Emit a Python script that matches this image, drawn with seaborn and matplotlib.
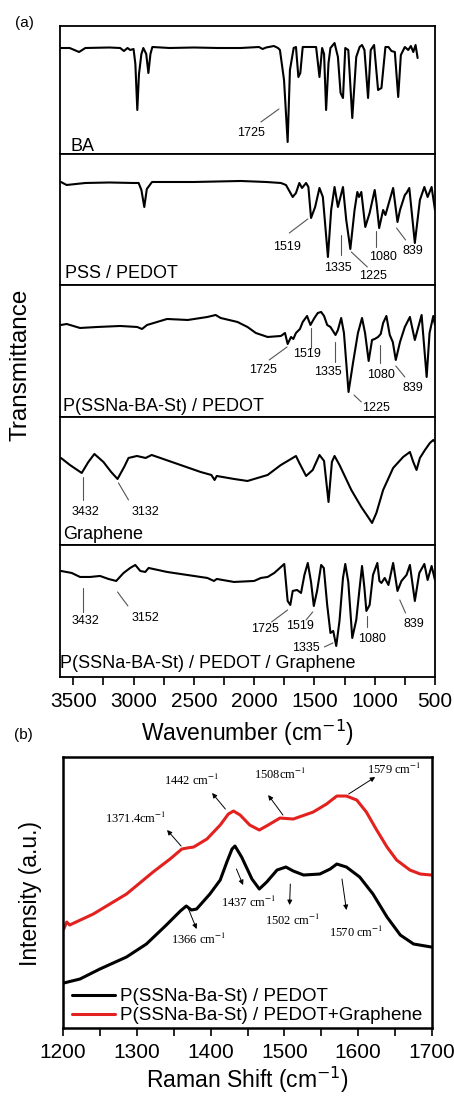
import matplotlib
matplotlib.use("Agg")
import matplotlib.pyplot as plt
import seaborn as sns
import pandas as pd
from matplotlib.ticker import MultipleLocator

sns.set_theme(style="ticks")
plt.rcParams["font.family"] = ["Liberation Sans", "DejaVu Sans"]
plt.rcParams["text.color"] = "black"
plt.rcParams["axes.labelcolor"] = "black"
plt.rcParams["xtick.color"] = "black"

# ---------------- (a) FTIR spectra ----------------
# wavenumber (cm-1) and transmittance (a.u., per panel)
ba_wn = [3602, 3530, 3452, 3400, 3200, 3111, 3080, 3050, 3028, 3000, 2985, 2969, 2955, 2935,
         2919, 2895, 2877, 2860, 2844, 2700, 2500, 2300, 2111, 1960, 1930, 1900, 1836, 1802,
         1786, 1752, 1722, 1703, 1672, 1653, 1633, 1617, 1597, 1486, 1458, 1436, 1420, 1403,
         1383, 1367, 1333, 1305, 1283, 1263, 1244, 1219, 1186, 1153, 1125, 1105, 1085, 1055,
         1033, 1005, 972, 944, 911, 886, 861, 833, 805, 783, 750, 722, 700, 680, 661, 644]
ba_t = [106, 106, 102, 106, 106.5, 106, 103, 106, 104, 105, 90, 44, 80, 100,
        106, 100, 81, 100, 107, 106, 106.5, 106, 106, 107, 105, 106.5, 108, 106,
        104, 74, 12, 84, 106, 107, 77, 81, 107, 107, 77, 106, 100, 44,
        91, 106, 111, 97, 61, 56, 106, 104, 36, 97, 107, 109, 104, 56,
        104, 109, 64, 66, 107, 107, 103, 102, 57, 99, 107, 104, 108, 102, 109, 96]

pss_wn = [3602, 3555, 3400, 3200, 3000, 2958, 2935, 2911, 2890, 2847, 2500, 2111, 1900, 1778,
          1736, 1680, 1653, 1625, 1603, 1569, 1550, 1528, 1494, 1458, 1430, 1388, 1361, 1333,
          1305, 1263, 1236, 1202, 1167, 1144, 1130, 1111, 1078, 1042, 1000, 985, 963, 930,
          911, 847, 811, 790, 750, 736, 713, 667, 625, 588, 561, 528, 500]
pss_t = [103, 100, 102, 102.5, 102, 102, 95, 78, 96, 103, 103, 104, 103, 102,
         100, 88, 92, 102, 97, 102, 98, 67, 78, 97, 88, 28, 75, 98,
         78, 98, 65, 36, 75, 93, 88, 93, 58, 72, 95, 82, 57, 75,
         70, 97, 63, 75, 90, 92, 97, 42, 85, 98, 88, 98, 75]

cop_wn = [3602, 3555, 3444, 3300, 3111, 2970, 2930, 2888, 2722, 2550, 2388, 2319, 2278, 2138,
          2055, 1986, 1888, 1778, 1744, 1722, 1694, 1675, 1653, 1620, 1597, 1561, 1533, 1500,
          1472, 1444, 1420, 1394, 1367, 1325, 1305, 1278, 1255, 1217, 1180, 1139, 1105, 1080,
          1050, 1022, 1000, 972, 950, 930, 903, 875, 850, 825, 790, 750, 708, 667, 611, 569,
          545, 514, 500]
cop_t = [92, 93, 89, 90, 91, 90, 88, 92, 98, 97, 100, 102, 99, 95,
         90, 84, 80, 81, 84, 73, 80, 78, 84, 88, 95, 101, 92, 99,
         104, 105, 101, 92, 90, 82, 87, 99, 84, 25, 54, 84, 99, 84,
         56, 77, 78, 80, 83, 94, 101, 82, 75, 57, 75, 90, 100, 77, 102, 40,
         84, 101, 92]

gr_wn = [3602, 3528, 3430, 3375, 3325, 3250, 3186, 3133, 3078, 3042, 2972, 2900, 2850, 2778,
         2611, 2444, 2355, 2328, 2310, 2167, 2055, 1888, 1778, 1694, 1653, 1625, 1569, 1514,
         1458, 1420, 1383, 1355, 1333, 1292, 1194, 1111, 1055, 1022, 986, 930, 847, 764,
         708, 680, 653, 625, 583, 542, 514, 500]
gr_t = [87, 80, 72, 83, 91, 83, 73, 66, 78, 87, 89, 87, 90, 87,
        80, 73, 70, 65, 69, 66, 64, 70, 80, 86, 89, 82, 69, 75,
        90, 84, 43, 83, 89, 80, 55, 38, 28, 22, 32, 55, 77, 88,
        93, 83, 75, 87, 95, 102, 105, 103]

cg_wn = [3602, 3513, 3444, 3361, 3278, 3208, 3144, 3083, 3028, 2986, 2944, 2903, 2875, 2722,
         2555, 2388, 2333, 2310, 2167, 2000, 1944, 1888, 1833, 1805, 1750, 1722, 1700, 1680,
         1644, 1611, 1583, 1555, 1528, 1505, 1478, 1444, 1422, 1394, 1367, 1344, 1319, 1292,
         1263, 1244, 1219, 1186, 1153, 1125, 1105, 1086, 1069, 1042, 1014, 978, 961, 944,
         917, 886, 847, 811, 778, 736, 708, 667, 630, 588, 561, 528, 500]
cg_t = [106, 104, 100, 100, 101, 98, 96, 104, 109, 112, 106, 105, 109, 105,
        102, 99, 96, 98, 95, 96, 99, 100, 104, 107, 113, 76, 72, 86,
        87, 84, 102, 114, 95, 71, 86, 112, 109, 72, 44, 46, 31, 56,
        99, 113, 95, 39, 57, 89, 111, 90, 66, 72, 102, 114, 96, 94,
        99, 92, 114, 86, 96, 102, 112, 76, 104, 113, 97, 111, 97]

ftir_wn = [ba_wn, pss_wn, cop_wn, gr_wn, cg_wn]
ftir_t = [ba_t, pss_t, cop_t, gr_t, cg_t]
ftir_names = ["BA", "PSS / PEDOT", "P(SSNa-BA-St) / PEDOT", "Graphene",
              "P(SSNa-BA-St) / PEDOT / Graphene"]
ftir_ticks = [3500, 3000, 2500, 2000, 1500, 1000, 500]

# peak labels: (text, text x, text y, line x0, line y0, line x1, line y1)
ftir_peaks = [
    [("1725", 2027, 21, 1944, 32, 1794, 45)],
    [("1519", 1729, 38, 1708, 52, 1555, 66), ("1335", 1302, 17, 1278, 50, 1278, 30),
     ("1225", 1011, 9, 1194, 33, 1061, 18), ("1080", 930, 28, 986, 54, 986, 38),
     ("839", 680, 34, 819, 57, 744, 45)],
    [("1725", 1930, 47, 1875, 57, 1727, 70), ("1519", 1558, 63, 1528, 89, 1528, 69),
     ("1335", 1389, 45, 1328, 75, 1328, 55), ("1225", 986, 9, 1172, 22, 1111, 15),
     ("1080", 947, 42, 958, 72, 958, 54), ("839", 680, 29, 825, 51, 750, 40)],
    [("3432", 3397, 33, 3417, 68, 3417, 45), ("3132", 2900, 33, 3125, 62, 3042, 45)],
    [("3432", 3400, 56, 3417, 89, 3417, 65), ("3152", 2903, 59, 3133, 85, 3047, 71),
     ("1725", 1913, 48, 1855, 55, 1722, 67), ("1519", 1617, 51, 1569, 57, 1514, 65),
     ("1335", 1567, 29, 1417, 30, 1347, 34), ("1080", 1022, 38, 1063, 61, 1063, 50),
     ("839", 678, 53, 792, 77, 744, 64)],
]

# ---------------- (b) Raman spectra ----------------
raman_names = ["P(SSNa-Ba-St) / PEDOT", "P(SSNa-Ba-St) / PEDOT+Graphene"]
raman_colors = ["black", "#e3211f"]
pedot_shift = [1201, 1223, 1250, 1286, 1313, 1340, 1359, 1367, 1374, 1381, 1399, 1413, 1422,
               1429, 1433, 1442, 1456, 1466, 1476, 1490, 1502, 1512, 1526, 1548, 1562, 1571,
               1584, 1602, 1620, 1639, 1657, 1675, 1699]
pedot_int = [45, 49, 59, 71, 84, 103, 117, 122, 118, 119, 134, 148, 166,
             179, 182, 171, 149, 139, 146, 158, 161, 157, 153, 154, 159, 164,
             161, 151, 134, 111, 93, 84, 81]
gr_shift = [1201, 1205, 1209, 1241, 1286, 1322, 1345, 1361, 1368, 1377, 1395, 1413, 1424,
            1431, 1440, 1453, 1466, 1478, 1494, 1512, 1539, 1557, 1571, 1584, 1598, 1611,
            1625, 1639, 1652, 1670, 1684, 1699]
gr_int = [99, 106, 103, 114, 134, 156, 169, 179, 180, 181, 189, 203, 214,
          217, 213, 203, 198, 203, 210, 209, 216, 224, 232, 232, 228, 216,
          198, 181, 168, 158, 154, 153]

raman_peaks = [
    ("1371.4cm$^{-1}$", 1299, 210, 1360, 182, 1341, 198),
    ("1442 cm$^{-1}$", 1374, 248, 1420, 219, 1402, 235),
    ("1508cm$^{-1}$", 1494, 254, 1498, 213, 1478, 233),
    ("1579 cm$^{-1}$", 1649, 259, 1587, 234, 1623, 251),
    ("1366 cm$^{-1}$", 1384, 89, 1370, 119, 1381, 99),
    ("1437 cm$^{-1}$", 1452, 126, 1435, 159, 1444, 143),
    ("1502 cm$^{-1}$", 1511, 108, 1508, 144, 1507, 123),
    ("1570 cm$^{-1}$", 1597, 96, 1578, 149, 1584, 118),
]

# ---------------- figure ----------------
fig = plt.figure(figsize=(4.54, 10.97), dpi=100)
heights = [128, 131, 132, 128, 132]
gs = fig.add_gridspec(5, 1, left=0.1322, right=0.9581, top=0.9763, bottom=0.3829,
                      hspace=0, height_ratios=heights)
label_pos = [(0.029, 0.026), (0.013, 0.051), (0.008, 0.048), (0.008, 0.045), (0.0, 0.07)]

for i in range(5):
    ax = fig.add_subplot(gs[i])
    sns.lineplot(x=ftir_wn[i], y=ftir_t[i], ax=ax, color="black", lw=1.5,
                 sort=False, estimator=None)
    ax.set_xlim(3610, 500)
    ax.set_ylim(0, heights[i])
    ax.set_ylabel("")
    for s in ax.spines.values():
        s.set_linewidth(1.3)
        s.set_color("black")
    ax.text(label_pos[i][0], label_pos[i][1], ftir_names[i], transform=ax.transAxes,
            fontsize=13, ha="left", va="baseline")
    for txt, tx, ty, x0, y0, x1, y1 in ftir_peaks[i]:
        ax.plot([x0, x1], [y0, y1], color="#555555", lw=0.8)
        ax.text(tx, ty, txt, fontsize=9, ha="center", va="center")
    ax.tick_params(left=False, labelleft=False)
    if i < 4:
        ax.tick_params(axis="x", which="both", bottom=False, labelbottom=False)
    else:
        ax.set_xticks(ftir_ticks)
        ax.xaxis.set_minor_locator(MultipleLocator(250))
        ax.tick_params(axis="x", which="both", direction="out", length=6, width=1.2,
                       labelsize=15, pad=4.5, colors="black")
        ax.set_xlabel("Wavenumber (cm$^{-1}$)", fontsize=16.5, labelpad=5)

fig.text(20.5 / 454, 1 - 365 / 1097, "Transmittance", rotation=90, fontsize=17.5,
         ha="center", va="center")
fig.text(24 / 454, 1 - 23.5 / 1097, "(a)", fontsize=11, ha="center", va="center")
fig.text(23 / 454, 1 - 735 / 1097, "(b)", fontsize=11, ha="center", va="center")

# Raman panel
axb = fig.add_axes([0.1388, 0.0629, 0.8128, 0.2470])
raman = pd.concat([
    pd.DataFrame({"shift": pedot_shift, "intensity": pedot_int, "sample": raman_names[0]}),
    pd.DataFrame({"shift": gr_shift, "intensity": gr_int, "sample": raman_names[1]}),
])
sns.lineplot(data=raman, x="shift", y="intensity", hue="sample", ax=axb,
             palette=dict(zip(raman_names, raman_colors)), lw=2.2, sort=False, estimator=None)
axb.set_xlim(1200, 1700)
axb.set_ylim(0, 271)
axb.set_xticks([1200, 1300, 1400, 1500, 1600, 1700])
axb.xaxis.set_minor_locator(MultipleLocator(50))
axb.tick_params(axis="x", which="both", direction="out", length=6, width=1.2,
                labelsize=15, pad=4.5, colors="black")
axb.tick_params(left=False, labelleft=False)
axb.set_ylabel("")
axb.set_xlabel("Raman Shift (cm$^{-1}$)", fontsize=16.5, labelpad=2)
for s in axb.spines.values():
    s.set_linewidth(1.8)
    s.set_color("black")
fig.text(31 / 454, 1 - 893.5 / 1097, "Intensity (a.u.)", rotation=90, fontsize=16.5,
         ha="center", va="center")

for txt, tx, ty, x0, y0, x1, y1 in raman_peaks:
    axb.annotate("", xy=(x1, y1), xytext=(x0, y0),
                 arrowprops=dict(arrowstyle="-|>", color="black", lw=0.7,
                                 mutation_scale=7, shrinkA=0, shrinkB=0))
    axb.text(tx, ty, txt, fontsize=9, ha="center", va="center",
             family=["Liberation Serif", "DejaVu Serif"], math_fontfamily="stix")

handles, labels = axb.get_legend_handles_labels()
axb.legend(handles, labels, loc="lower left", bbox_to_anchor=(0.024, 0.013),
           frameon=False, fontsize=13.5, handlelength=2.3, handletextpad=0.27,
           borderpad=0, borderaxespad=0, labelspacing=0.1)

fig.savefig("out.png", dpi=100)
